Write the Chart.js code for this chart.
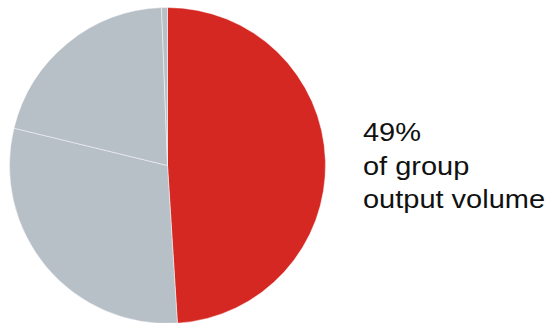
<!DOCTYPE html>
<html>
<head>
<meta charset="utf-8">
<script src="https://cdn.jsdelivr.net/npm/chart.js@4/dist/chart.umd.min.js"></script>
<style>
  html, body { margin: 0; padding: 0; background: #fff; }
  body { width: 551px; height: 323px; position: relative; overflow: hidden; }
  #pieBox { position: absolute; left: 9px; top: 7px; width: 317px; height: 317px; }
  #caption {
    position: absolute; left: 363px; top: 116px;
    font-family: "Liberation Sans", Arial, sans-serif; font-size: 26px; line-height: 33.5px;
    color: #111; transform-origin: left top; white-space: nowrap;
  }
  #caption span { display: inline-block; }
</style>
</head>
<body>
<div id="pieBox"><canvas id="pie"></canvas></div>
<div id="caption"><span>49%</span><br><span>of group</span><br><span id="longLine">output volume</span></div>
<script>
const labels = ["Group share", "Other A", "Other B", "Other C"];
const shares = [49, 29.8, 20.6, 0.6];
const colors = ["#d62823", "#b7bfc7", "#b7bfc7", "#b7bfc7"];

// stretch caption so the longest line spans the same width as in the reference
const targetWidth = 182;
const natural = document.getElementById("longLine").getBoundingClientRect().width;
document.getElementById("caption").style.transform = "scaleX(" + (targetWidth / natural) + ")";

const chart = new Chart(document.getElementById("pie"), {
  type: "pie",
  data: {
    labels: labels,
    datasets: [{
      data: shares,
      backgroundColor: colors,
      borderColor: "rgba(255,255,255,0.45)",
      borderWidth: 1,
    }],
  },
  options: {
    responsive: true,
    maintainAspectRatio: false,
    animation: false,
    layout: { padding: 0 },
    plugins: {
      legend: { display: false },
      tooltip: { enabled: false },
    },
  },
});
</script>
</body>
</html>
